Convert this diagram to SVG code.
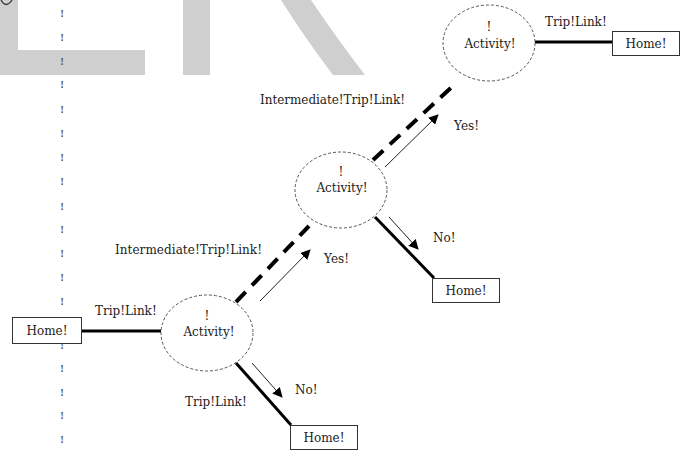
<svg xmlns="http://www.w3.org/2000/svg" width="686" height="460" viewBox="0 0 686 460">
  <style>
    .txt { font-family: "DejaVu Serif", "Liberation Serif", serif; font-size: 12px; fill: #222; }
    .bang { font-family: "Liberation Serif", "DejaVu Serif", serif; font-size: 11px; font-weight: bold; fill: #555; text-anchor: middle; }
    .box { fill: #fff; stroke: #333; stroke-width: 1; }
    .act { fill: #fff; stroke: #555; stroke-width: 1; stroke-dasharray: 3 2; }
    .trip { stroke: #000; stroke-width: 3; fill: none; }
    .inter { stroke: #000; stroke-width: 4; fill: none; stroke-dasharray: 14 9; }
    .choice { stroke: #222; stroke-width: 1; fill: none; marker-end: url(#head); }
    .wm { fill: #cfcfcf; }
  </style>
  <defs>
    <marker id="head" viewBox="0 0 10 10" refX="9" refY="5" markerWidth="10" markerHeight="10" markerUnits="userSpaceOnUse" orient="auto">
      <path d="M0,0 L10,5 L0,10 Z" fill="#000"/>
    </marker>
  </defs>

  <rect width="686" height="460" fill="#fff"/>

  <!-- background lettering -->
  <g id="backdrop">
    <path class="wm" d="M0,0 H18 V50 H145 V75 H0 Z"/>
    <rect class="wm" x="183" y="0" width="27" height="75"/>
    <path class="wm" d="M281,0 H311 Q338,40 365,75 H333 Q305,38 281,0 Z"/>
    <path d="M1,0 Q6,9 12,0" fill="none" stroke="#333" stroke-width="1.3"/>
  </g>

  <!-- dotted time axis -->
  <g id="axis">
    <text class="bang" x="62" y="17">!</text>
    <text class="bang" x="62" y="41">!</text>
    <text class="bang" x="62" y="65">!</text>
    <text class="bang" x="62" y="88">!</text>
    <text class="bang" x="62" y="113">!</text>
    <text class="bang" x="62" y="137">!</text>
    <text class="bang" x="62" y="161">!</text>
    <text class="bang" x="62" y="185">!</text>
    <text class="bang" x="62" y="210">!</text>
    <text class="bang" x="62" y="233">!</text>
    <text class="bang" x="62" y="257">!</text>
    <text class="bang" x="62" y="281">!</text>
    <text class="bang" x="62" y="305">!</text>
    <text class="bang" x="62" y="349">!</text>
    <text class="bang" x="62" y="372">!</text>
    <text class="bang" x="62" y="396">!</text>
    <text class="bang" x="62" y="419">!</text>
    <text class="bang" x="62" y="443">!</text>
  </g>

  <!-- links between places -->
  <g id="connectors">
    <line class="trip" x1="82" y1="331" x2="161" y2="331"/>
    <line class="trip" x1="236" y1="363" x2="291" y2="425"/>
    <line class="trip" x1="375" y1="217" x2="434" y2="278"/>
    <line class="trip" x1="535" y1="42" x2="612" y2="42"/>
    <line class="inter" x1="236" y1="302" x2="309" y2="226"/>
    <line class="inter" x1="373" y1="160" x2="455" y2="84"/>
    <line class="choice" x1="252" y1="363" x2="282" y2="397"/>
    <line class="choice" x1="260" y1="301" x2="310" y2="250"/>
    <line class="choice" x1="389" y1="217" x2="418" y2="249"/>
    <line class="choice" x1="385" y1="167" x2="438" y2="115"/>
  </g>

  <!-- link labels -->
  <g id="labels">
    <text class="txt" x="95" y="315">Trip!Link!</text>
    <text class="txt" x="185" y="406">Trip!Link!</text>
    <text class="txt" x="295" y="394">No!</text>
    <text class="txt" x="115" y="254" textLength="147">Intermediate!Trip!Link!</text>
    <text class="txt" x="324" y="263">Yes!</text>
    <text class="txt" x="433" y="242">No!</text>
    <text class="txt" x="260" y="104" textLength="145">Intermediate!Trip!Link!</text>
    <text class="txt" x="454" y="130">Yes!</text>
    <text class="txt" x="545" y="26">Trip!Link!</text>
  </g>

  <g id="home-1">
    <rect class="box" x="12.5" y="317.5" width="69" height="26"/>
    <text class="txt" x="47" y="335" text-anchor="middle">Home!</text>
  </g>
  <g id="home-2">
    <rect class="box" x="290.5" y="425.5" width="67" height="24"/>
    <text class="txt" x="324" y="442" text-anchor="middle">Home!</text>
  </g>
  <g id="home-3">
    <rect class="box" x="432.5" y="278.5" width="67" height="24"/>
    <text class="txt" x="466" y="295" text-anchor="middle">Home!</text>
  </g>
  <g id="home-4">
    <rect class="box" x="612.5" y="31.5" width="67" height="24"/>
    <text class="txt" x="646" y="48" text-anchor="middle">Home!</text>
  </g>

  <g id="activity-1">
    <ellipse class="act" cx="207" cy="333" rx="46" ry="38"/>
    <text class="txt" x="207" y="320" text-anchor="middle">!</text>
    <text class="txt" x="209" y="336" text-anchor="middle">Activity!</text>
  </g>
  <g id="activity-2">
    <ellipse class="act" cx="341" cy="190" rx="46" ry="38"/>
    <text class="txt" x="341" y="176" text-anchor="middle">!</text>
    <text class="txt" x="342" y="192" text-anchor="middle">Activity!</text>
  </g>
  <g id="activity-3">
    <ellipse class="act" cx="489" cy="43" rx="46" ry="38"/>
    <text class="txt" x="489" y="31" text-anchor="middle">!</text>
    <text class="txt" x="490" y="48" text-anchor="middle">Activity!</text>
  </g>
</svg>
